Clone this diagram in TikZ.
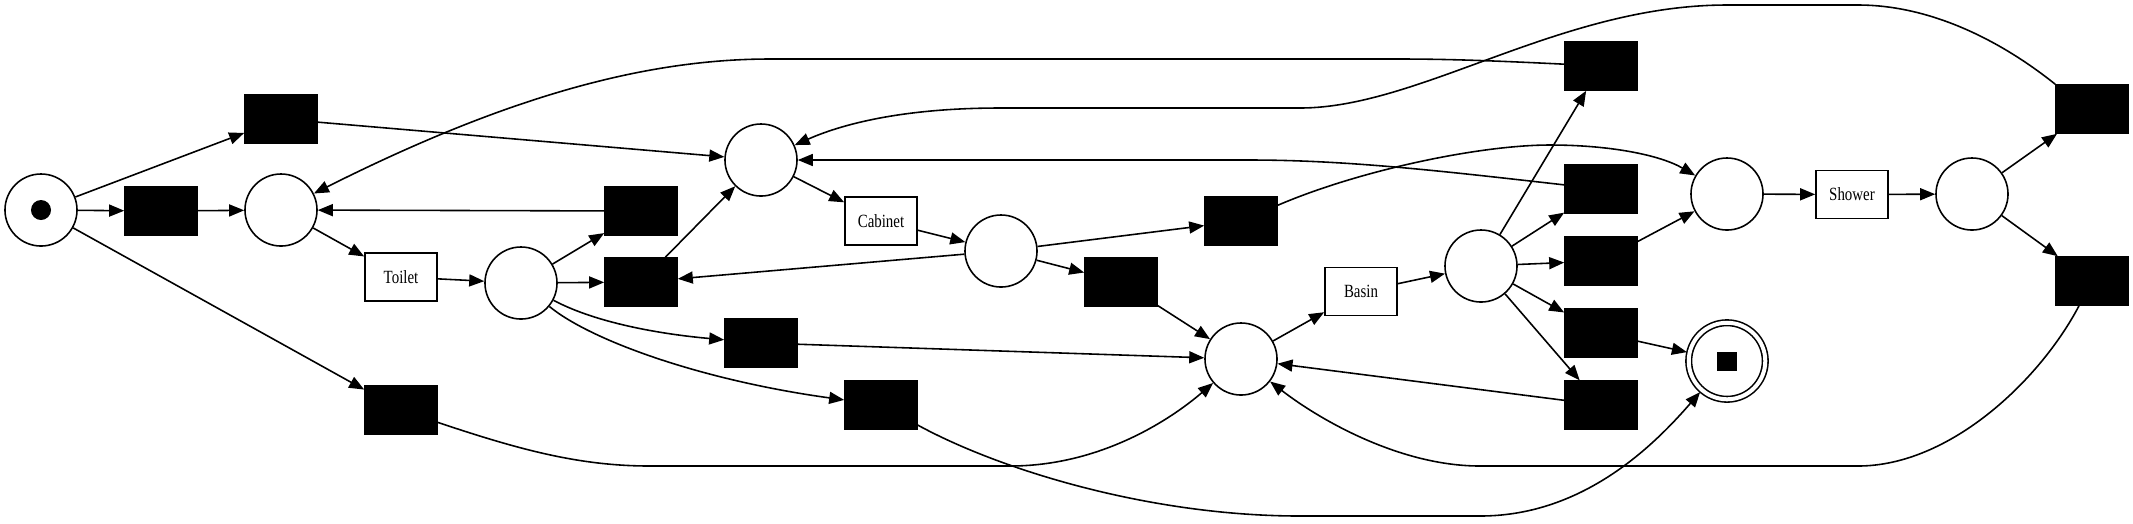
\documentclass[tikz,border=0pt]{standalone}
\usepackage{fontspec}
\setmainfont{Liberation Serif}
\newfontfamily\lbl[FakeStretch=0.8]{Liberation Serif}
\usetikzlibrary{arrows.meta}

\begin{document}
\begin{tikzpicture}[x=0.01cm,y=-0.01cm,>={Triangle[length=0.15cm,width=0.12cm]},line width=0.45pt,
    place/.style={circle,draw,minimum size=0.72cm,inner sep=0pt},
    final/.style={place,double,double distance=0.04cm,minimum size=0.765cm,outer sep=0.028cm},
    silent/.style={rectangle,draw,fill=black,minimum width=0.72cm,minimum height=0.48cm,inner sep=0pt},
    task/.style={rectangle,draw,minimum width=0.72cm,minimum height=0.48cm,inner sep=0pt,
      font=\lbl\fontsize{5.3}{6}\selectfont}]
      \useasboundingbox (0,0) rectangle (2133,523);

      \node[place] (p0) at (41,210) {};
      \node[circle,fill=black,minimum size=0.2cm,inner sep=0pt] (tok) at (p0) {};
      \node[place] (p1) at (281,210) {};
      \node[place] (p2) at (521,283) {};
      \node[place] (p3) at (761,160) {};
      \node[place] (p4) at (1001,251) {};
      \node[place] (p5) at (1241,359) {};
      \node[place] (p6) at (1481,266) {};
      \node[place] (p7) at (1727,194) {};
      \node[place] (p8) at (1972,194) {};
      \node[final] (pend) at (1727,361) {};
      \node[rectangle,fill=black,minimum width=0.2cm,minimum height=0.19cm,inner sep=0pt] (endtok) at (pend) {};

      \node[silent] (t1) at (281,119) {};
      \node[silent] (t2) at (161,211) {};
      \node[silent] (t3) at (401,410) {};
      \node[task] (toilet) at (401,277) {Toilet};
      \node[silent] (t4) at (641,211) {};
      \node[silent] (t5) at (641,282) {};
      \node[silent] (t6) at (761,343) {};
      \node[task] (cabinet) at (881,221) {Cabinet};
      \node[silent] (t7) at (881,405) {};
      \node[silent] (t8) at (1121,282) {};
      \node[silent] (t9) at (1241,221) {};
      \node[task] (basin) at (1361,291.5) {Basin};
      \node[silent] (t10) at (1601,66) {};
      \node[silent] (t11) at (1601,189) {};
      \node[silent] (t12) at (1601,261) {};
      \node[silent] (t13) at (1601,333) {};
      \node[silent] (t14) at (1601,405) {};
      \node[task] (shower) at (1852,194.5) {Shower};
      \node[silent] (t15) at (2092,109) {};
      \node[silent] (t16) at (2092,281) {};

      \path[->]
      (p0) edge (t1)
      (p0) edge (t2)
      (p0) edge (t3)
      (t2) edge (p1)
      (t1) edge (p3)

      (p1) edge (toilet)
      (t4) edge (p1)
      (toilet) edge (p2)
      (p2) edge (t4)
      (p2) edge (t5)
      (t5) edge (p3)
      ;

      \path[->]
      (p3) edge (cabinet)
      (cabinet) edge (p4)
      (p4) edge (t5)
      (p4) edge (t9)
      (p4) edge (t8)
      (t8) edge (p5)
      (t6) edge (p5)
      (p5) edge (basin)
      (basin) edge (p6)
      ;

      \path[->]
      (p6) edge (t10)
      (p6) edge (t11)
      (p6) edge (t12)
      (p6) edge (t13)
      (p6) edge (t14)
      (t12) edge (p7)
      (t13) edge (pend)
      (t14) edge (p5)
      (p7) edge (shower)
      (shower) edge (p8)
      (p8) edge (t15)
      (p8) edge (t16)
      ;

      % long arcs
      \draw[->] (p2) .. controls (600,325) and (670,335) .. (t6);
      \draw[->] (p2) .. controls (590,340) and (700,380) .. (t7);
      \draw[->] (t3) .. controls (520,450) and (580,466) .. (650,466) -- (1010,466)
        .. controls (1100,466) and (1170,420) .. (p5);
      \draw[->] (t7) .. controls (1000,470) and (1150,516) .. (1300,516) -- (1480,516)
        .. controls (1580,516) and (1650,450) .. (pend);
      \draw[->] (t9) .. controls (1360,170) and (1480,145) .. (1550,145)
        .. controls (1610,145) and (1660,155) .. (p7);
      \draw[->] (t10) .. controls (1500,61) and (1450,59) .. (1400,59) -- (770,59)
        .. controls (640,59) and (500,100) .. (p1);
      \draw[->] (t11) .. controls (1450,172) and (1350,160) .. (1250,160) -- (p3);
      \draw[->] (t15.north west) .. controls (2000,40) and (1930,5) .. (1858,5) -- (1727,5)
        .. controls (1560,5) and (1420,108) .. (1300,108) -- (1000,108)
        .. controls (900,108) and (840,125) .. (p3);
      \draw[->] (t16) .. controls (2040,380) and (1950,466) .. (1858,466) -- (1480,466)
        .. controls (1400,466) and (1320,420) .. (p5);
\end{tikzpicture}
\end{document}
